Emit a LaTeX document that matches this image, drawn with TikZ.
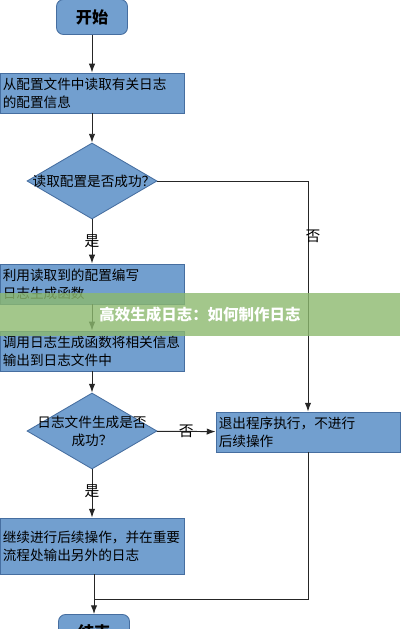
\documentclass[tikz,border=0pt]{standalone}
\usepackage{fontspec}
\setmainfont{Noto Sans CJK SC}
\usetikzlibrary{positioning,shapes.geometric,arrows.meta}
\definecolor{boxblue}{RGB}{114,159,207}
\definecolor{edgeblue}{RGB}{70,110,160}
\definecolor{bannergreen}{RGB}{140,185,110}

\begin{document}
\begin{tikzpicture}[x=0.025cm, y=-0.025cm, font=\fontsize{9.7}{12.8}\selectfont,
  stepbox/.style={rectangle, draw=edgeblue, fill=boxblue, line width=.6pt,
    text width=4.46cm, inner xsep=.07cm, minimum height=1cm, align=left},
  termbox/.style={rectangle, rounded corners=5pt, draw=edgeblue, fill=boxblue,
    line width=.6pt, minimum width=1.775cm, minimum height=.875cm,
    font=\fontsize{11.5}{14}\selectfont\bfseries},
  decision/.style={diamond, draw=edgeblue, fill=boxblue, line width=.6pt,
    inner sep=0pt, minimum width=3.25cm, minimum height=1.9cm},
  flow/.style={draw=black!85, line width=.7pt, -{Latex[length=2.2mm, width=1.6mm]}},
  tag/.style={inner sep=1pt, font=\fontsize{10.5}{12}\selectfont}]
  \useasboundingbox (0,0) rectangle (400,629);
		\node (start) at (92,17) [termbox] {开始};
		\node (cfg) at (92,93) [stepbox] {从配置文件中读取有关日志\\的配置信息};
		\node (chk1) at (92,181) [decision] {};
		\node (chk1txt) at (94,181) {读取配置是否成功？};
		\node (gen) at (92,284) [stepbox, minimum height=.95cm] {利用读取到的配置编写\\日志生成函数};
		\node (call) at (92,351) [stepbox] {调用日志生成函数将相关信息\\输出到日志文件中};
		\node (chk2) at (92,431) [decision] {};
		\node (chk2txt) at (chk2) [align=center] {日志文件生成是否\\成功？};
		\node (quit) at (308,432) [stepbox] {退出程序执行，不进行\\后续操作};
		\node (cont) at (92,546) [stepbox, minimum height=1.4cm] {继续进行后续操作，并在重要\\流程处输出另外的日志};
		\node (end) at (94,632) [termbox] {结束};
		\coordinate (merge) at (94,599);
		\draw[flow] (start) -- (cfg);
		\draw[flow] (cfg) -- (chk1);
		\draw[flow] (chk1) -- node[tag] {是} (gen);
		\draw[flow] (chk1.east) -| node[tag, pos=.62, right=-3pt] {否} (quit.north);
		\draw[flow] (gen) -- (call);
		\draw[flow] (call) -- (chk2);
		\draw[flow] (chk2) -- node[tag] {否} (quit);
		\draw[flow] (chk2) -- node[tag, pos=.45] {是} (cont);
		\draw[flow] (cont.south -| merge) -- (end);
		\draw[draw=black!85, line width=.7pt] (quit.south) |- (merge);
		% overlay band
		\fill[bannergreen, opacity=.8] (0,293) rectangle (400,336);
		\node (banner) at (200,315) [text=white, font=\fontsize{11}{13}\selectfont\bfseries] {高效生成日志：如何制作日志};
\end{tikzpicture}
\end{document}
